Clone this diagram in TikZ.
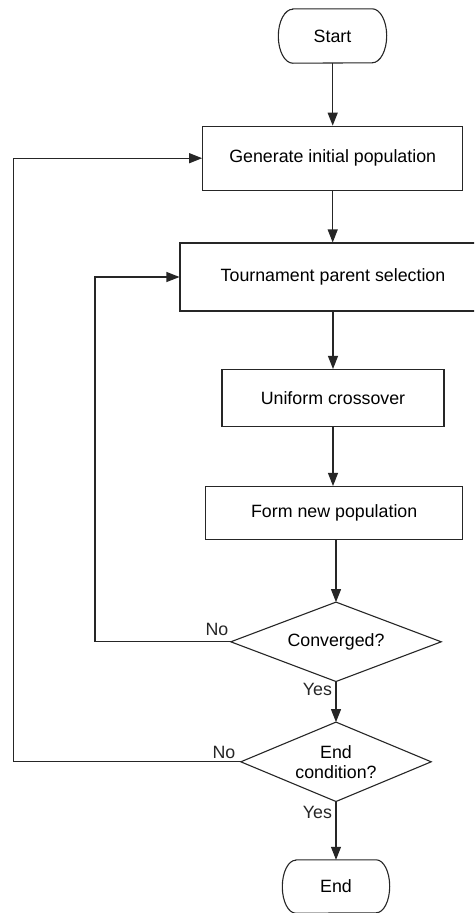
\documentclass[tikz,border=0pt]{standalone}
\usepackage{fontspec}
\setmainfont{Liberation Sans}
\usetikzlibrary{arrows.meta}
\begin{document}
\begin{tikzpicture}[x=1pt,y=-1pt,
  every node/.style={font=\fontsize{17.8}{20}\selectfont, inner sep=0pt},
  line/.style={line width=1.1pt, draw=black!85},
  arr/.style={line, -{Triangle[length=13pt,width=10pt]}},
  procbox/.style={draw=black!85, line width=1.1pt, rectangle, align=center},
  hidden/.style={rectangle, align=center},
  lbl/.style={font=\fontsize{17.8}{20}\selectfont, text=black!85}]
\clip (0,0) rectangle (474,913);
\fill[white] (0,0) rectangle (474,913);
% terminals (flat part sizes)
\node[hidden, minimum width=79pt, minimum height=54pt] (Start) at (332.5,36) {Start};
\node[hidden, minimum width=80pt, minimum height=53pt] (End) at (336,886.5) {End};
\draw[line] (Start.north west) -- (Start.north east) arc[start angle=-90, end angle=90, x radius=14.5, y radius=27] -- (Start.south west) arc[start angle=90, end angle=270, x radius=14.5, y radius=27] -- cycle;
\draw[line] (End.north west) -- (End.north east) arc[start angle=-90, end angle=90, x radius=13.5, y radius=26.5] -- (End.south west) arc[start angle=90, end angle=270, x radius=13.5, y radius=26.5] -- cycle;
% process boxes
\node[procbox, minimum width=260pt, minimum height=64pt] (Gen) at (332.7,158.2) {Generate initial population};
\node[procbox, minimum width=306pt, minimum height=68pt] (Tour) at (333,277) {Tournament parent selection};
\node[procbox, minimum width=222pt, minimum height=57pt] (Uni) at (333,398) {Uniform crossover};
\node[procbox, minimum width=257pt, minimum height=53pt] (Form) at (334.2,513) {Form new population};
% decisions
\node[hidden, minimum width=210pt, minimum height=79pt] (Conv) at (336,641.8) {Converged?};
\node[hidden, minimum width=190pt, minimum height=79pt] (EndC) at (336,761.8) {End\\condition?};
\draw[line] (Conv.north) -- (Conv.east) -- (Conv.south) -- (Conv.west) -- cycle;
\draw[line] (EndC.north) -- (EndC.east) -- (EndC.south) -- (EndC.west) -- cycle;
% main flow
\draw[arr] (Start.south -| Gen.north) -- (Gen.north);
\draw[arr] (Gen.south) -- (Gen.south |- Tour.north);
\draw[arr] (Tour.south -| Uni.north) -- (Uni.north);
\draw[arr] (Uni.south) -- (Uni.south |- Form.north);
\draw[arr] (Form.south -| Conv.north) -- (Conv.north);
\draw[arr] (Conv.south) -- (EndC.north);
\draw[arr] (EndC.south) -- (End.north);
% loops
\coordinate (innerx) at (95,0);
\coordinate (outerx) at (13.3,0);
\draw[arr] (Conv.west) -- (Conv.west -| innerx) |- (Tour.west);
\draw[arr] (EndC.west) -- (EndC.west -| outerx) |- (Gen.west);
% labels
\node[lbl] (noA) at (217,629) {No};
\node[lbl] (noB) at (224,752) {No};
\node[lbl] (yesA) at (317.5,689.5) {Yes};
\node[lbl] (yesB) at (317.5,812) {Yes};
\end{tikzpicture}
\end{document}
